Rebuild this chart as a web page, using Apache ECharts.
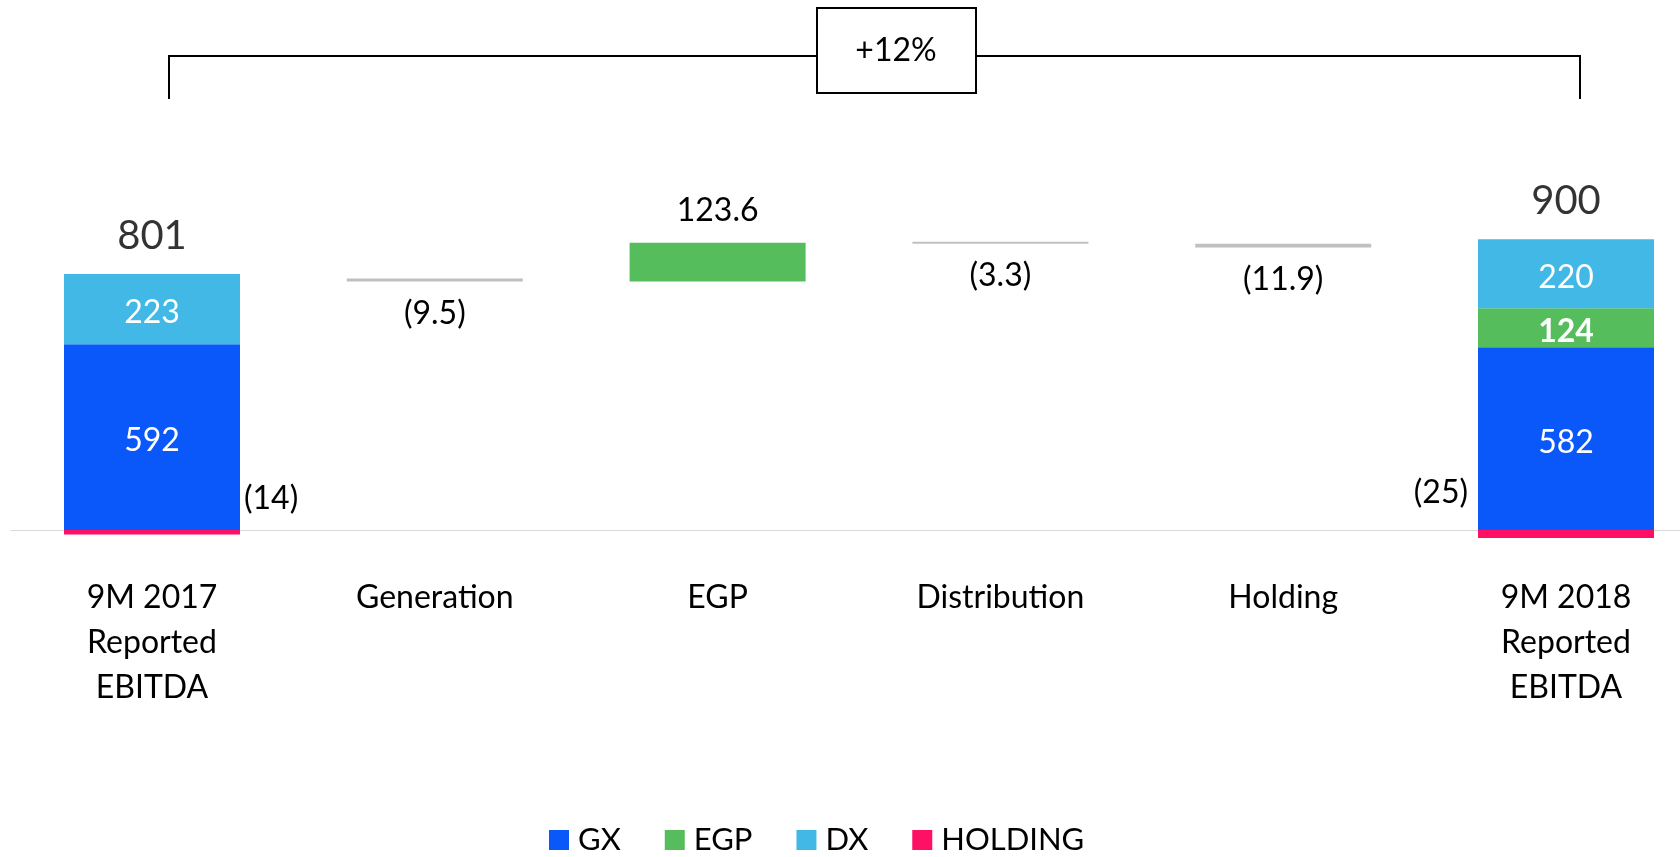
<!DOCTYPE html>
<html>
<head>
<meta charset="utf-8">
<script src="https://cdn.jsdelivr.net/npm/echarts@6/dist/echarts.min.js"></script>
<style>
  html, body { margin: 0; padding: 0; background: #fff; }
  #chart { width: 1680px; height: 857px; }
</style>
</head>
<body>
<div id="chart"></div>
<script>
// categories
const categories = ['9M 2017\nReported\nEBITDA', 'Generation', 'EGP', 'Distribution', 'Holding', '9M 2018\nReported\nEBITDA'];

// stacked totals (first and last column)
const gx      = [592, '-', '-', '-', '-', 582];
const egp     = ['-', '-', '-', '-', '-', 124];
const dx      = [223, '-', '-', '-', '-', 220];
const holding = [-14, '-', '-', '-', '-', -25];
const totals  = [801, '-', '-', '-', '-', 900];

// bridge changes between the totals
const startValue = 801;
const changes = ['-', -9.5, 123.6, -3.3, -11.9, '-'];

const FONT = 'Lato';
const colors = { GX: '#0A58FA', EGP: '#55BD5B', DX: '#41B8E5', HOLDING: '#FE1064', grey: '#C0C0C0' };

// build the invisible base + visible delta for the waterfall
let running = startValue;
const bridgeBase = [];
const bridgeDelta = [];
changes.forEach((c) => {
  if (c === '-') { bridgeBase.push('-'); bridgeDelta.push('-'); return; }
  const next = running + c;
  bridgeBase.push(Math.min(running, next));
  bridgeDelta.push({
    value: Math.abs(c),
    itemStyle: { color: c < 0 ? colors.grey : colors.EGP },
    label: {
      position: c < 0 ? 'bottom' : 'top',
      formatter: c < 0 ? '(' + Math.abs(c).toFixed(1) + ')' : c.toFixed(1)
    }
  });
  running = next;
});

// totals label sits on top of the positive stack
const totalPoints = [];
totals.forEach((t, i) => {
  if (t === '-') return;
  const top = [gx[i], egp[i], dx[i]].reduce((s, v) => s + (v === '-' ? 0 : v), 0);
  totalPoints.push({ value: [i, top], total: t });
});

const insideLabel = { show: true, position: 'inside', offset: [0, 4], color: '#fff', fontFamily: FONT, fontSize: 32 };

const holdingData = holding.map((v, i) => {
  if (v === '-') return v;
  const first = i === 0;
  return {
    value: v,
    label: {
      show: true,
      position: first ? 'right' : 'left',
      distance: first ? 4 : 10,
      offset: [0, first ? -34 : -41],
      formatter: '(' + Math.abs(v) + ')',
      color: '#000', fontFamily: FONT, fontSize: 32
    }
  };
});

const chart = echarts.init(document.getElementById('chart'));

const barBase = { type: 'bar', stack: 'all', barWidth: 176, clip: false };

const option = {
  animation: false,
  textStyle: { fontFamily: FONT },
  grid: [
    // bars: first and last category sit on the grid edges
    { left: 152, right: 114, top: 216, height: 345.5, containLabel: false },
    // full-width baseline
    { left: 11, right: 0, top: 216, height: 345.5, containLabel: false }
  ],
  legend: {
    data: ['GX', 'EGP', 'DX', 'HOLDING'],
    left: 544, top: 819,
    icon: 'rect', itemWidth: 20, itemHeight: 20, itemGap: 44,
    textStyle: { fontFamily: FONT, fontSize: 31, color: '#000', lineHeight: 32, padding: [0, 0, 0, 4] }
  },
  xAxis: [
    {
      type: 'category', gridIndex: 0,
      data: categories,
      boundaryGap: false,
      axisLine: { onZero: true, lineStyle: { color: '#D9D9D9', width: 1 } },
      axisTick: { show: false },
      axisLabel: { margin: 14, color: '#000', fontFamily: FONT, fontSize: 32, lineHeight: 45, interval: 0 }
    },
    {
      type: 'value', gridIndex: 1,
      axisLine: { onZero: true, lineStyle: { color: '#D9D9D9', width: 1 } },
      axisTick: { show: false }, axisLabel: { show: false }, splitLine: { show: false }
    }
  ],
  yAxis: [
    { type: 'value', gridIndex: 0, min: -100, max: 1000, show: false, splitLine: { show: false } },
    { type: 'value', gridIndex: 1, min: -100, max: 1000, show: false, splitLine: { show: false } }
  ],
  series: [
    Object.assign({ name: 'GX', data: gx, itemStyle: { color: colors.GX }, label: insideLabel }, barBase),
    Object.assign({ name: 'EGP', data: egp, itemStyle: { color: colors.EGP },
      label: Object.assign({}, insideLabel, { fontWeight: 'bold' }) }, barBase),
    Object.assign({ name: 'DX', data: dx, itemStyle: { color: colors.DX }, label: insideLabel }, barBase),
    Object.assign({ name: 'HOLDING', data: holdingData, itemStyle: { color: colors.HOLDING } }, barBase),
    Object.assign({ name: 'base', data: bridgeBase, itemStyle: { color: 'transparent' }, silent: true }, barBase),
    Object.assign({ name: 'bridge', data: bridgeDelta, barMinHeight: 2,
      label: { show: true, distance: 16, color: '#000', fontFamily: FONT, fontSize: 32 } }, barBase),
    { name: 'total', type: 'scatter', symbolSize: 0, data: totalPoints, clip: false,
      label: { show: true, position: 'top', distance: 18, color: '#000', fontFamily: FONT, fontSize: 40,
        formatter: (p) => String(p.data.total) } }
  ],
  graphic: [
    { type: 'polyline', shape: { points: [[169, 99], [169, 56], [817, 56]] },
      style: { stroke: '#000', lineWidth: 2, fill: null } },
    { type: 'polyline', shape: { points: [[976, 56], [1580, 56], [1580, 99]] },
      style: { stroke: '#000', lineWidth: 2, fill: null } },
    { type: 'rect', shape: { x: 817, y: 8, width: 159, height: 85 },
      style: { stroke: '#000', lineWidth: 2, fill: '#fff' } },
    { type: 'text', x: 896, y: 51,
      style: { text: '+12%', fontFamily: FONT, fontSize: 32, fill: '#000', align: 'center', verticalAlign: 'middle' } }
  ]
};

chart.setOption(option);
</script>
</body>
</html>
